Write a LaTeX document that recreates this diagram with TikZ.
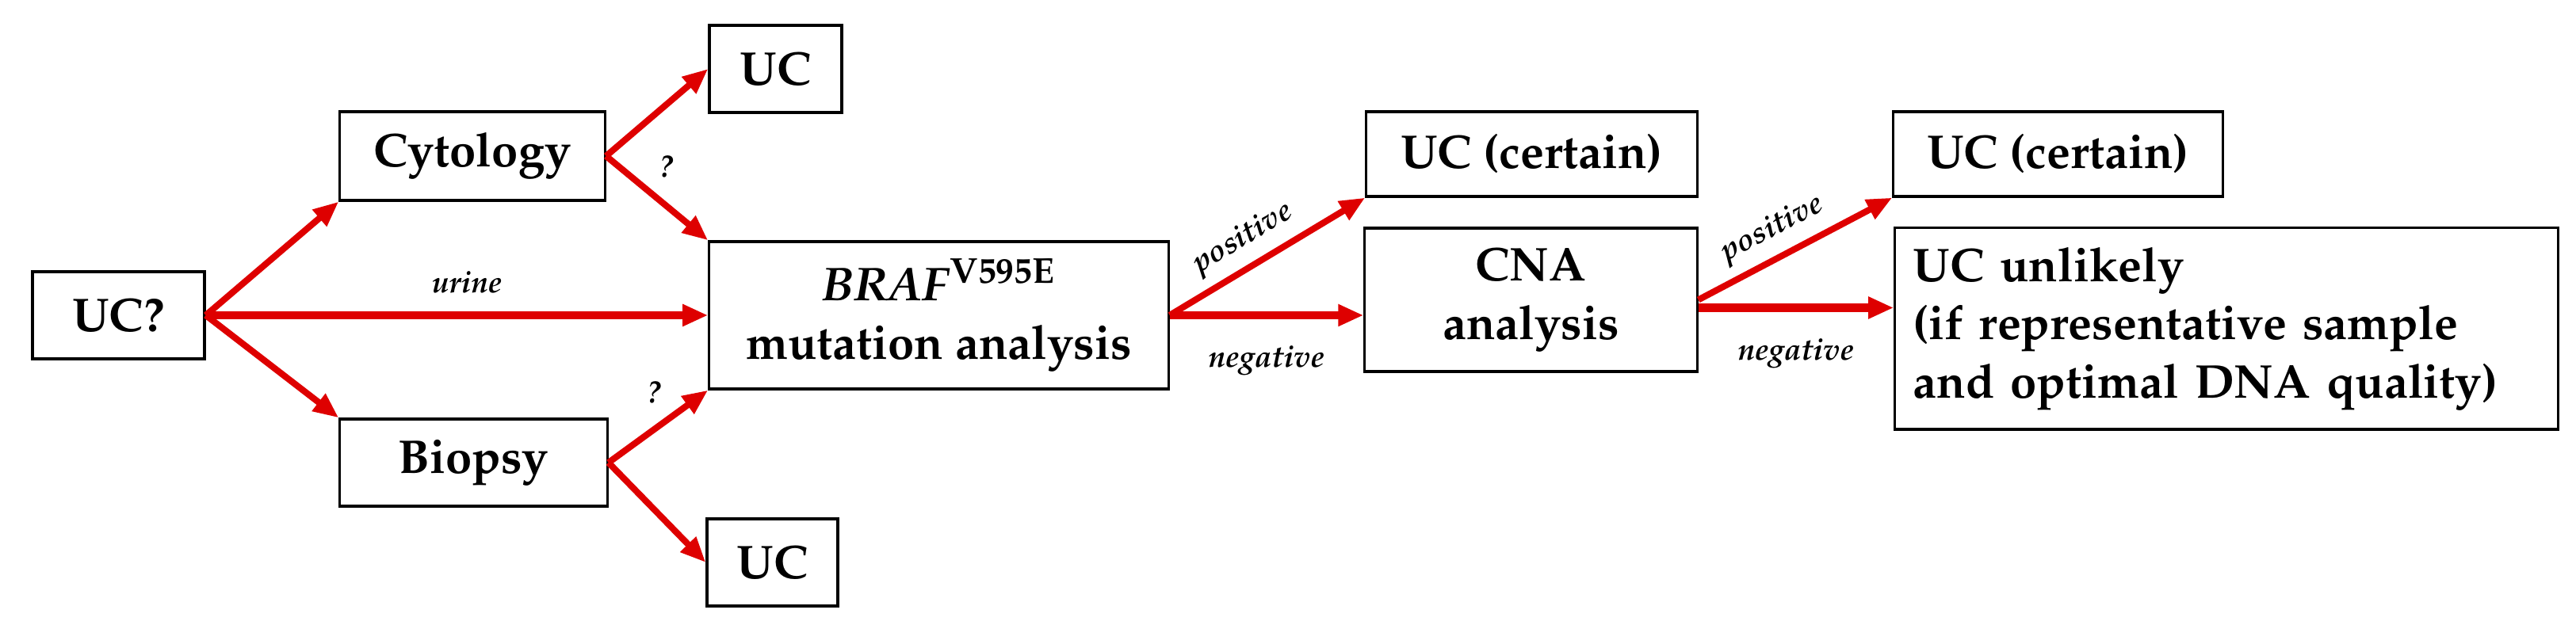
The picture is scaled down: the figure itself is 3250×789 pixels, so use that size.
\documentclass[tikz,border=0pt]{standalone}
\usepackage[T1]{fontenc}
\usepackage{mathpazo}
\usetikzlibrary{arrows.meta}
\definecolor{arr}{RGB}{222,0,0}
\begin{document}
\begin{tikzpicture}[x=0.01cm,y=-0.01cm,
  box/.style={draw,line width=0.9pt,inner sep=0pt,align=center,font=\fontsize{17}{21}\selectfont\bfseries},
  ar/.style={draw=arr,line width=2.3pt,-{Triangle[length=3.2mm,width=2.6mm]},shorten >=0pt},
  arh/.style={ar,line width=3pt},
  lab/.style={font=\fontsize{11}{13}\selectfont\bfseries\itshape}]
\useasboundingbox (0,0) rectangle (3250,789);
\node[box,minimum width=2.17cm,minimum height=1.10cm] (q) at (149.5,398) {UC?};
\node[box,minimum width=3.34cm,minimum height=1.12cm] (cyt) at (596,197) {Cytology};
\node[box,minimum width=3.37cm,minimum height=1.10cm] (bio) at (597.5,584) {Biopsy};
\node[box,minimum width=1.67cm,minimum height=1.10cm] (uc1) at (978.5,87) {UC};
\node[box,minimum width=1.65cm,minimum height=1.10cm] (uc2) at (974.5,710) {UC};
\node[box,minimum width=5.79cm,minimum height=1.86cm] (braf) at (1184.5,398) {\textit{BRAF}\textsuperscript{V595E}\\mutation analysis};
\node[box,minimum width=4.17cm,minimum height=1.07cm] (ucc1) at (1932.5,194.5) {UC (certain)};
\node[box,minimum width=4.19cm,minimum height=1.81cm] (cna) at (1931.5,378.5) {CNA\\analysis};
\node[box,minimum width=4.15cm,minimum height=1.07cm] (ucc2) at (2596.5,194.5) {UC (certain)};
\node[box,minimum width=8.36cm,minimum height=2.54cm,align=left,text width=7.9cm] (unl) at (2809,415) {UC unlikely\\(if representative sample\\and optimal DNA quality)};
\draw[ar] (q.east) -- (cyt.south west);
\draw[ar] (q.east) -- (bio.north west);
\draw[arh] (q.east) -- node[lab,above=3pt,pos=0.52] (lu) {urine} (braf.west);
\draw[ar] (cyt.east) -- (uc1.west);
\draw[ar] (cyt.east) -- node[lab,above right=0pt,pos=0.4] (l1) {?} (braf.north west);
\draw[ar] (bio.east) -- node[lab,above left=0pt,pos=0.65] (l2) {?} (braf.south west);
\draw[ar] (bio.east) -- (uc2.west);
\draw[ar] (braf.east) -- node[lab,sloped,above,pos=0.45] (p1) {positive} (ucc1.south west);
\draw[arh] (braf.east) -- node[lab,below=6pt] (n1) {negative} (braf.east -| cna.west);
\draw[ar] (cna.east) -- node[lab,sloped,above,pos=0.45] (p2) {positive} (ucc2.south west);
\draw[arh] ([yshift=-0.1cm]cna.east) -- node[lab,below=6pt] (n2) {negative} ([yshift=-0.1cm]cna.east -| unl.west);
\end{tikzpicture}
\end{document}
